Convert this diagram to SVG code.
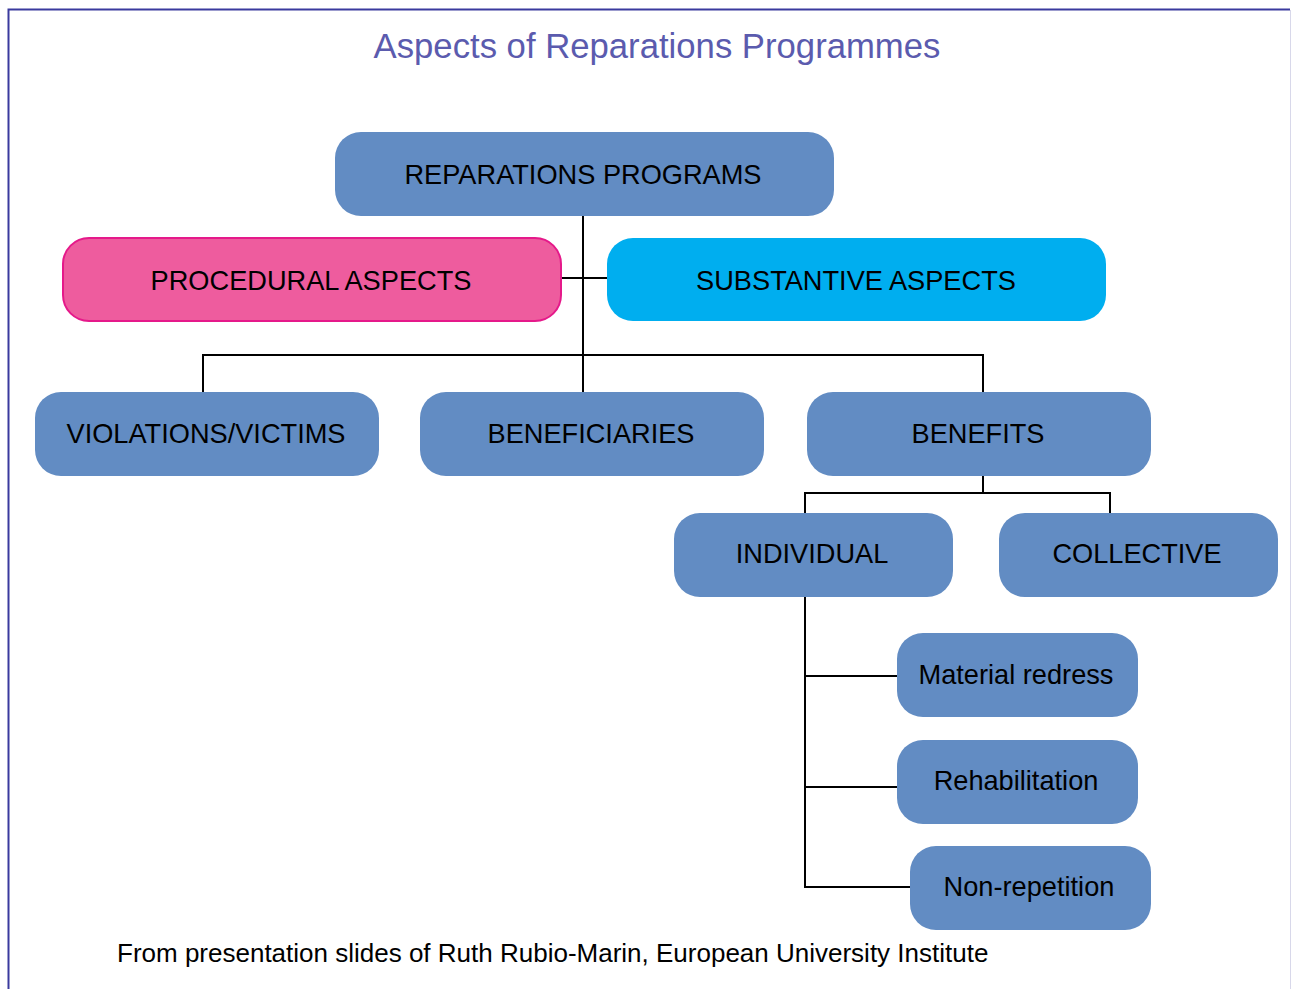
<svg xmlns="http://www.w3.org/2000/svg" width="1292" height="989" viewBox="0 0 1292 989">
<style>
.box{fill:#628CC3;}
.lbl{font-family:"Liberation Sans",Arial,sans-serif;font-size:27.2px;fill:#000;text-anchor:middle;}
.con{fill:none;stroke:#000;stroke-width:2;}
</style>
<rect width="1292" height="989" fill="#fff"/>
<path d="M8.5,989 V9.5 H1290" fill="none" stroke="#3A3A9E" stroke-width="2"/>
<path d="M1290.5,10 V989" fill="none" stroke="#D8D8EA" stroke-width="1"/>
<text x="657" y="58" font-family="'Liberation Sans',Arial,sans-serif" font-size="34.7" fill="#5B5BAE" text-anchor="middle">Aspects of Reparations Programmes</text>
<g id="connectors">
<path class="con" d="M583,216 V355"/>
<path class="con" d="M561,278 H607"/>
<path class="con" d="M203,392 V355 H983 V392"/>
<path class="con" d="M583,355 V392"/>
<path class="con" d="M983,476 V493"/>
<path class="con" d="M805,513 V493 H1110 V513"/>
<path class="con" d="M805,597 V887 H910"/>
<path class="con" d="M805,676 H897"/>
<path class="con" d="M805,787 H897"/>
</g>
<g id="n-reparations"><rect class="box" x="335" y="132" width="499" height="84" rx="26"/><text class="lbl" x="583" y="184">REPARATIONS PROGRAMS</text></g>
<g id="n-procedural"><rect x="63" y="238" width="498" height="83" rx="26" fill="#EE5C9E" stroke="#E5198A" stroke-width="2"/><text class="lbl" x="311" y="290">PROCEDURAL ASPECTS</text></g>
<g id="n-substantive"><rect x="607" y="238" width="499" height="83" rx="26" fill="#00AEEF"/><text class="lbl" x="856" y="290">SUBSTANTIVE ASPECTS</text></g>
<g id="n-violations"><rect class="box" x="35" y="392" width="344" height="84" rx="26"/><text class="lbl" x="206" y="443">VIOLATIONS/VICTIMS</text></g>
<g id="n-beneficiaries"><rect class="box" x="420" y="392" width="344" height="84" rx="26"/><text class="lbl" x="591" y="443">BENEFICIARIES</text></g>
<g id="n-benefits"><rect class="box" x="807" y="392" width="344" height="84" rx="26"/><text class="lbl" x="978" y="443">BENEFITS</text></g>
<g id="n-individual"><rect class="box" x="674" y="513" width="279" height="84" rx="26"/><text class="lbl" x="812" y="563">INDIVIDUAL</text></g>
<g id="n-collective"><rect class="box" x="999" y="513" width="279" height="84" rx="26"/><text class="lbl" x="1137" y="563">COLLECTIVE</text></g>
<g id="n-material"><rect class="box" x="897" y="633" width="241" height="84" rx="26"/><text class="lbl" x="1016" y="684">Material redress</text></g>
<g id="n-rehab"><rect class="box" x="897" y="740" width="241" height="84" rx="26"/><text class="lbl" x="1016" y="790">Rehabilitation</text></g>
<g id="n-nonrep"><rect class="box" x="910" y="846" width="241" height="84" rx="26"/><text class="lbl" x="1029" y="896">Non-repetition</text></g>
<text x="117" y="962" font-family="'Liberation Sans',Arial,sans-serif" font-size="26" fill="#000">From presentation slides of Ruth Rubio-Marin, European University Institute</text>
</svg>
